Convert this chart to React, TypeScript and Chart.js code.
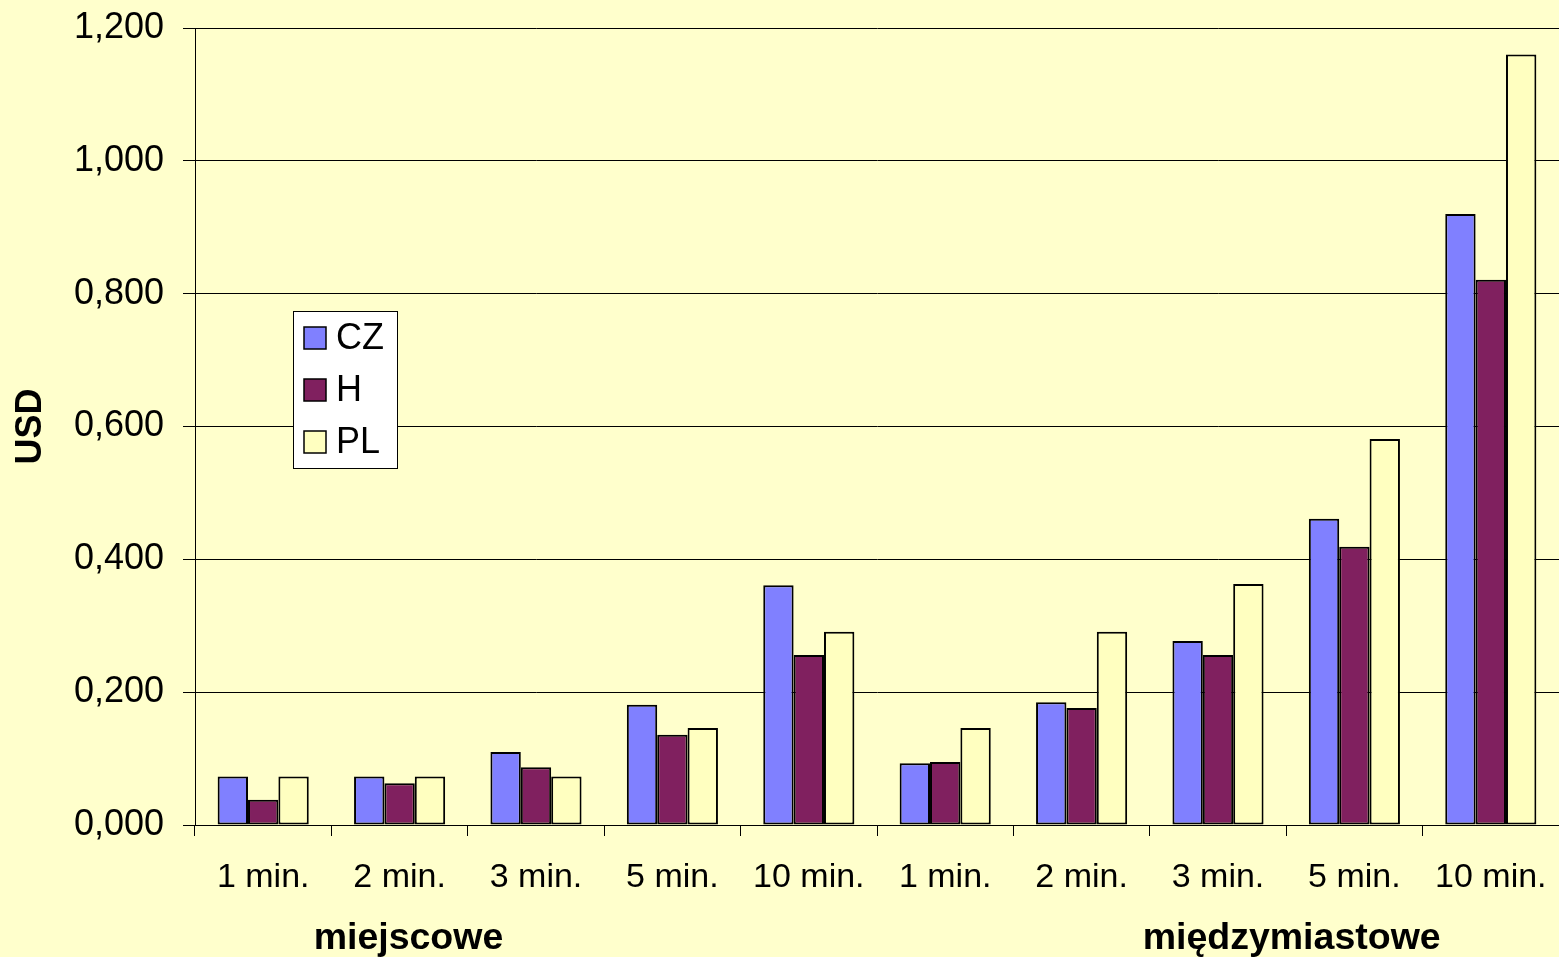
import React, { useEffect, useRef } from "react";
import { Chart, registerables } from "chart.js";

Chart.register(...registerables);

const categories = ["1 min.", "2 min.", "3 min.", "5 min.", "10 min.", "1 min.", "2 min.", "3 min.", "5 min.", "10 min."];
const groupLabels = ["miejscowe", "międzymiastowe"];
const seriesNames = ["CZ", "H", "PL"];
const czValues = [0.073, 0.073, 0.110, 0.181, 0.361, 0.093, 0.185, 0.277, 0.461, 0.920];
const hValues = [0.038, 0.063, 0.087, 0.136, 0.256, 0.095, 0.176, 0.256, 0.419, 0.821];
const plValues = [0.073, 0.073, 0.073, 0.146, 0.291, 0.146, 0.291, 0.363, 0.581, 1.160];
const yTicks = [0, 0.2, 0.4, 0.6, 0.8, 1.0, 1.2];

const BG = "#FFFFCC";
const FONT = "Arial, 'Liberation Sans', sans-serif";

const bgPlugin = {
  id: "bgPlugin",
  beforeDraw(chart: any) {
    const ctx = chart.ctx;
    ctx.save();
    ctx.fillStyle = BG;
    ctx.fillRect(0, 0, chart.width, chart.height);
    ctx.restore();
  },
};

const overlayPlugin = {
  id: "overlayPlugin",
  afterDraw(chart: any) {
    const ctx = chart.ctx;
    const x = chart.scales.x;
    const cat = (x.right - x.left) / categories.length;
    ctx.save();
    // group labels
    ctx.fillStyle = "#000";
    ctx.font = `bold 37.5px ${FONT}`;
    ctx.textAlign = "center";
    ctx.textBaseline = "alphabetic";
    const groupPos = [1.065, 7.54];
    groupLabels.forEach((g, i) => {
      ctx.fillText(g, x.left + (groupPos[i] + 0.5) * cat, 949);
    });
    // legend
    const bx = 293, by = 311, bw = 104, bh = 157;
    ctx.fillStyle = "#FFFFFF";
    ctx.fillRect(bx, by, bw, bh);
    ctx.strokeStyle = "#000";
    ctx.lineWidth = 1;
    ctx.strokeRect(bx + 0.5, by + 0.5, bw, bh);
    ctx.font = `36px ${FONT}`;
    ctx.textAlign = "left";
    ctx.textBaseline = "middle";
    chart.data.datasets.forEach((ds: any, i: number) => {
      const cy = 338 + i * 52;
      ctx.fillStyle = ds.backgroundColor;
      ctx.fillRect(304, cy - 11, 22, 22);
      ctx.strokeStyle = "#000";
      ctx.lineWidth = 1.5;
      ctx.strokeRect(304, cy - 11, 22, 22);
      ctx.fillStyle = "#000";
      ctx.fillText(ds.label, 336, cy + 1);
    });
    ctx.restore();
  },
};

export default function App() {
  const ref = useRef<HTMLCanvasElement | null>(null);
  useEffect(() => {
    if (!ref.current) return;
    const chart = new Chart(ref.current, {
      type: "bar",
      data: {
        labels: categories,
        datasets: [
          { label: seriesNames[0], data: czValues, backgroundColor: "#8080FF" },
          { label: seriesNames[1], data: hValues, backgroundColor: "#80205F" },
          { label: seriesNames[2], data: plValues, backgroundColor: "#FFFFC0" },
        ].map((d) => ({
          ...d,
          borderColor: "#000",
          borderWidth: 2,
          borderSkipped: false as any,
          categoryPercentage: 0.668,
          barPercentage: 1.0,
        })),
      },
      options: {
        animation: false,
        responsive: false,
        maintainAspectRatio: false,
        layout: { padding: { top: 28, right: 0, left: 0, bottom: 0 } },
        plugins: {
          legend: { display: false },
          tooltip: { enabled: false },
        },
        scales: {
          x: {
            afterFit: (s: any) => {
              s.height = 132;
              s.paddingLeft = 0;
              s.paddingRight = 0;
            },
            grid: {
              drawOnChartArea: false,
              drawTicks: true,
              tickLength: 11,
              color: "#000",
              lineWidth: 1,
              offset: true,
            },
            border: { display: true, color: "#000", width: 1 },
            ticks: {
              color: "#000",
              font: { family: FONT, size: 34 },
              padding: 21,
              maxRotation: 0,
              autoSkip: false,
            },
          },
          y: {
            min: 0,
            max: 1.2,
            afterFit: (s: any) => {
              s.width = 195;
              s.paddingTop = 0;
              s.paddingBottom = 0;
            },
            afterBuildTicks: (s: any) => {
              s.ticks = yTicks.map((v) => ({ value: v }));
            },
            grid: {
              color: "#000",
              lineWidth: 1,
              drawTicks: true,
              tickLength: 12,
            },
            border: { display: true, color: "#000", width: 1 },
            ticks: {
              color: "#000",
              font: { family: FONT, size: 36 },
              padding: 19,
              callback: (v: any) => Number(v).toFixed(3).replace(".", ","),
            },
            title: {
              display: true,
              text: "USD",
              color: "#000",
              font: { family: FONT, size: 36, weight: "bold" },
              padding: { top: 9, bottom: 0 },
            },
          },
        },
      },
      plugins: [bgPlugin, overlayPlugin],
    });
    return () => chart.destroy();
  }, []);
  return (
    <div style={{ position: "fixed", left: 0, top: 0, width: 1559, height: 957, background: BG }}>
      <canvas ref={ref} width={1559} height={957} style={{ display: "block", width: 1559, height: 957 }} />
    </div>
  );
}
